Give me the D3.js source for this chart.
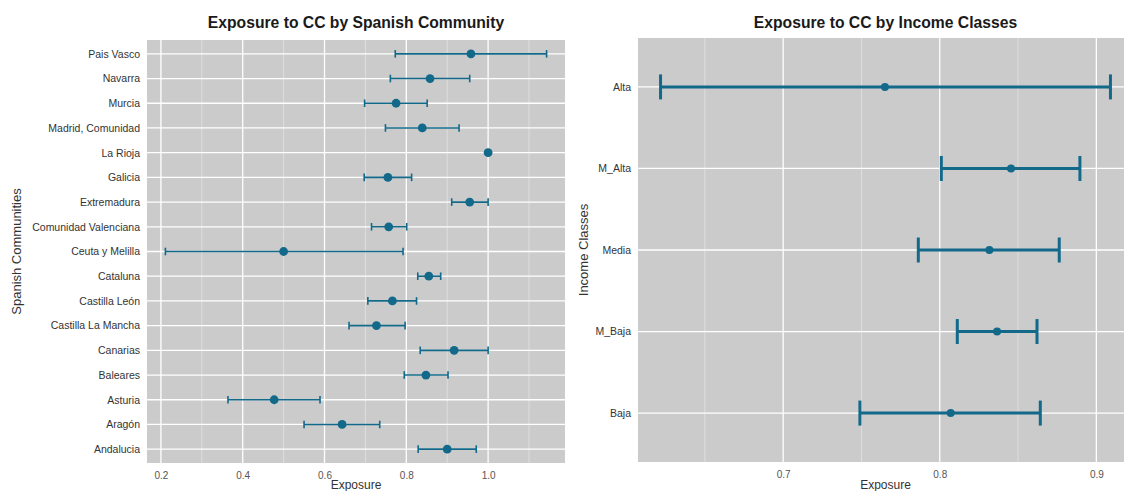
<!DOCTYPE html>
<html>
<head>
<meta charset="utf-8">
<script src="https://cdn.jsdelivr.net/npm/d3@7"></script>
<style>
  html, body { margin: 0; padding: 0; background: #ffffff; }
  svg { display: block; font-family: "Liberation Sans", Arial, Helvetica, sans-serif; }
</style>
</head>
<body>
<svg id="chart" width="1124" height="491"></svg>
<script>
// Exposure by Spanish autonomous community (listed bottom to top)
const communities = [
  "Andalucia", "Aragón", "Asturia", "Baleares", "Canarias",
  "Castilla La Mancha", "Castilla León", "Cataluna", "Ceuta y Melilla",
  "Comunidad Valenciana", "Extremadura", "Galicia", "La Rioja",
  "Madrid, Comunidad", "Murcia", "Navarra", "Pais Vasco"
];
const communityMean = [0.900, 0.643, 0.477, 0.848, 0.917, 0.727, 0.766, 0.855, 0.500,
                       0.757, 0.955, 0.755, 1.000, 0.839, 0.775, 0.858, 0.958];
const communityLow  = [0.829, 0.550, 0.364, 0.795, 0.834, 0.660, 0.706, 0.828, 0.211,
                       0.715, 0.911, 0.697, 1.000, 0.749, 0.698, 0.761, 0.773];
const communityHigh = [0.971, 0.735, 0.589, 0.902, 1.000, 0.797, 0.825, 0.884, 0.792,
                       0.801, 1.000, 0.813, 1.000, 0.929, 0.851, 0.955, 1.143];

// Exposure by income class (listed bottom to top)
const incomeClasses = ["Baja", "M_Baja", "Media", "M_Alta", "Alta"];
const incomeMean = [0.807, 0.8366, 0.8317, 0.8455, 0.765];
const incomeLow  = [0.749, 0.8112, 0.7863, 0.801, 0.6217];
const incomeHigh = [0.8642, 0.8621, 0.8763, 0.8895, 0.909];

const leftTicks = [0.2, 0.4, 0.6, 0.8, 1.0];
const leftMinorTicks = [0.3, 0.5, 0.7, 0.9, 1.1];
const rightTicks = [0.7, 0.8, 0.9];
const rightMinorTicks = [0.65, 0.75, 0.85];

const svg = d3.select("#chart");
const markColor = "#12698a";

function drawPanel(opts) {
  const { cats, mean, low, high, x0, x1, y0, y1, xDomain, yPadding,
          ticks, minorTicks, title, yTitle, yTitleX,
          lineWidth, capHalf, dotR } = opts;

  const x = d3.scaleLinear().domain(xDomain).range([x0, x1]);
  const y = d3.scalePoint().domain(cats.slice().reverse()).range([y0, y1]).padding(yPadding);

  const clipId = "clip-" + title.replace(/\W+/g, "");
  svg.append("clipPath").attr("id", clipId)
    .append("rect").attr("x", x0).attr("y", y0).attr("width", x1 - x0).attr("height", y1 - y0);

  const g = svg.append("g");
  g.append("rect")
    .attr("x", x0).attr("y", y0).attr("width", x1 - x0).attr("height", y1 - y0)
    .attr("fill", "#cbcbcb");

  const grid = g.append("g").attr("clip-path", `url(#${clipId})`);
  grid.selectAll("line.minor").data(minorTicks).join("line")
    .attr("x1", d => x(d)).attr("x2", d => x(d)).attr("y1", y0).attr("y2", y1)
    .attr("stroke", "#e6e6e6").attr("stroke-width", 0.7);
  grid.selectAll("line.major").data(ticks).join("line")
    .attr("x1", d => x(d)).attr("x2", d => x(d)).attr("y1", y0).attr("y2", y1)
    .attr("stroke", "#ffffff").attr("stroke-width", 1.3);
  grid.selectAll("line.hgrid").data(cats).join("line")
    .attr("x1", x0).attr("x2", x1).attr("y1", d => y(d)).attr("y2", d => y(d))
    .attr("stroke", "#ffffff").attr("stroke-width", 1.3);

  // x axis
  const xAxis = g.append("g").attr("transform", `translate(0,${y1})`)
    .call(d3.axisBottom(x).tickValues(ticks).tickFormat(d3.format(".1f")).tickSize(0).tickPadding(9));
  xAxis.select(".domain").remove();
  xAxis.selectAll("text").attr("fill", "#555").attr("font-size", 10).attr("font-family", "Liberation Sans, Arial, sans-serif");

  // y axis
  const yAxis = g.append("g").attr("transform", `translate(${x0},0)`)
    .call(d3.axisLeft(y).tickSize(0).tickPadding(7));
  yAxis.select(".domain").remove();
  yAxis.selectAll("text").attr("fill", "#333").attr("font-size", 10.5).attr("font-family", "Liberation Sans, Arial, sans-serif");

  // titles
  svg.append("text")
    .attr("x", (x0 + x1) / 2).attr("y", 28)
    .attr("text-anchor", "middle").attr("font-size", 15.7).attr("font-weight", "bold")
    .attr("fill", "#1a1a1a").text(title);
  svg.append("text")
    .attr("x", (x0 + x1) / 2).attr("y", 489)
    .attr("text-anchor", "middle").attr("font-size", 12).attr("fill", "#333")
    .text("Exposure");
  svg.append("text")
    .attr("transform", `translate(${yTitleX},${(y0 + y1) / 2}) rotate(-90)`)
    .attr("text-anchor", "middle").attr("font-size", 13).attr("fill", "#333")
    .text(yTitle);

  // error bars and points
  const rows = cats.map((c, i) => ({ c, m: mean[i], lo: low[i], hi: high[i] }));
  const marks = g.append("g").attr("clip-path", `url(#${clipId})`);
  const bars = rows.filter(r => r.hi > r.lo);
  marks.selectAll("line.bar").data(bars).join("line")
    .attr("x1", d => x(d.lo)).attr("x2", d => x(d.hi))
    .attr("y1", d => y(d.c)).attr("y2", d => y(d.c))
    .attr("stroke", markColor).attr("stroke-width", lineWidth);
  marks.selectAll("line.capLo").data(bars).join("line")
    .attr("x1", d => x(d.lo)).attr("x2", d => x(d.lo))
    .attr("y1", d => y(d.c) - capHalf).attr("y2", d => y(d.c) + capHalf)
    .attr("stroke", markColor).attr("stroke-width", lineWidth);
  marks.selectAll("line.capHi").data(bars).join("line")
    .attr("x1", d => x(d.hi)).attr("x2", d => x(d.hi))
    .attr("y1", d => y(d.c) - capHalf).attr("y2", d => y(d.c) + capHalf)
    .attr("stroke", markColor).attr("stroke-width", lineWidth);
  marks.selectAll("circle").data(rows).join("circle")
    .attr("cx", d => x(d.m)).attr("cy", d => y(d.c)).attr("r", dotR)
    .attr("fill", markColor);
}

drawPanel({
  cats: communities, mean: communityMean, low: communityLow, high: communityHigh,
  x0: 147, x1: 565, y0: 40, y1: 463, xDomain: [0.166, 1.188], yPadding: 0.56,
  ticks: leftTicks, minorTicks: leftMinorTicks,
  title: "Exposure to CC by Spanish Community", yTitle: "Spanish Communities", yTitleX: 21,
  lineWidth: 1.6, capHalf: 3.8, dotR: 4.4
});

drawPanel({
  cats: incomeClasses, mean: incomeMean, low: incomeLow, high: incomeHigh,
  x0: 638, x1: 1133, y0: 38, y1: 462, xDomain: [0.6073, 0.9234], yPadding: 0.6,
  ticks: rightTicks, minorTicks: rightMinorTicks,
  title: "Exposure to CC by Income Classes", yTitle: "Income Classes", yTitleX: 588,
  lineWidth: 3, capHalf: 12.5, dotR: 4
});
</script>
</body>
</html>
